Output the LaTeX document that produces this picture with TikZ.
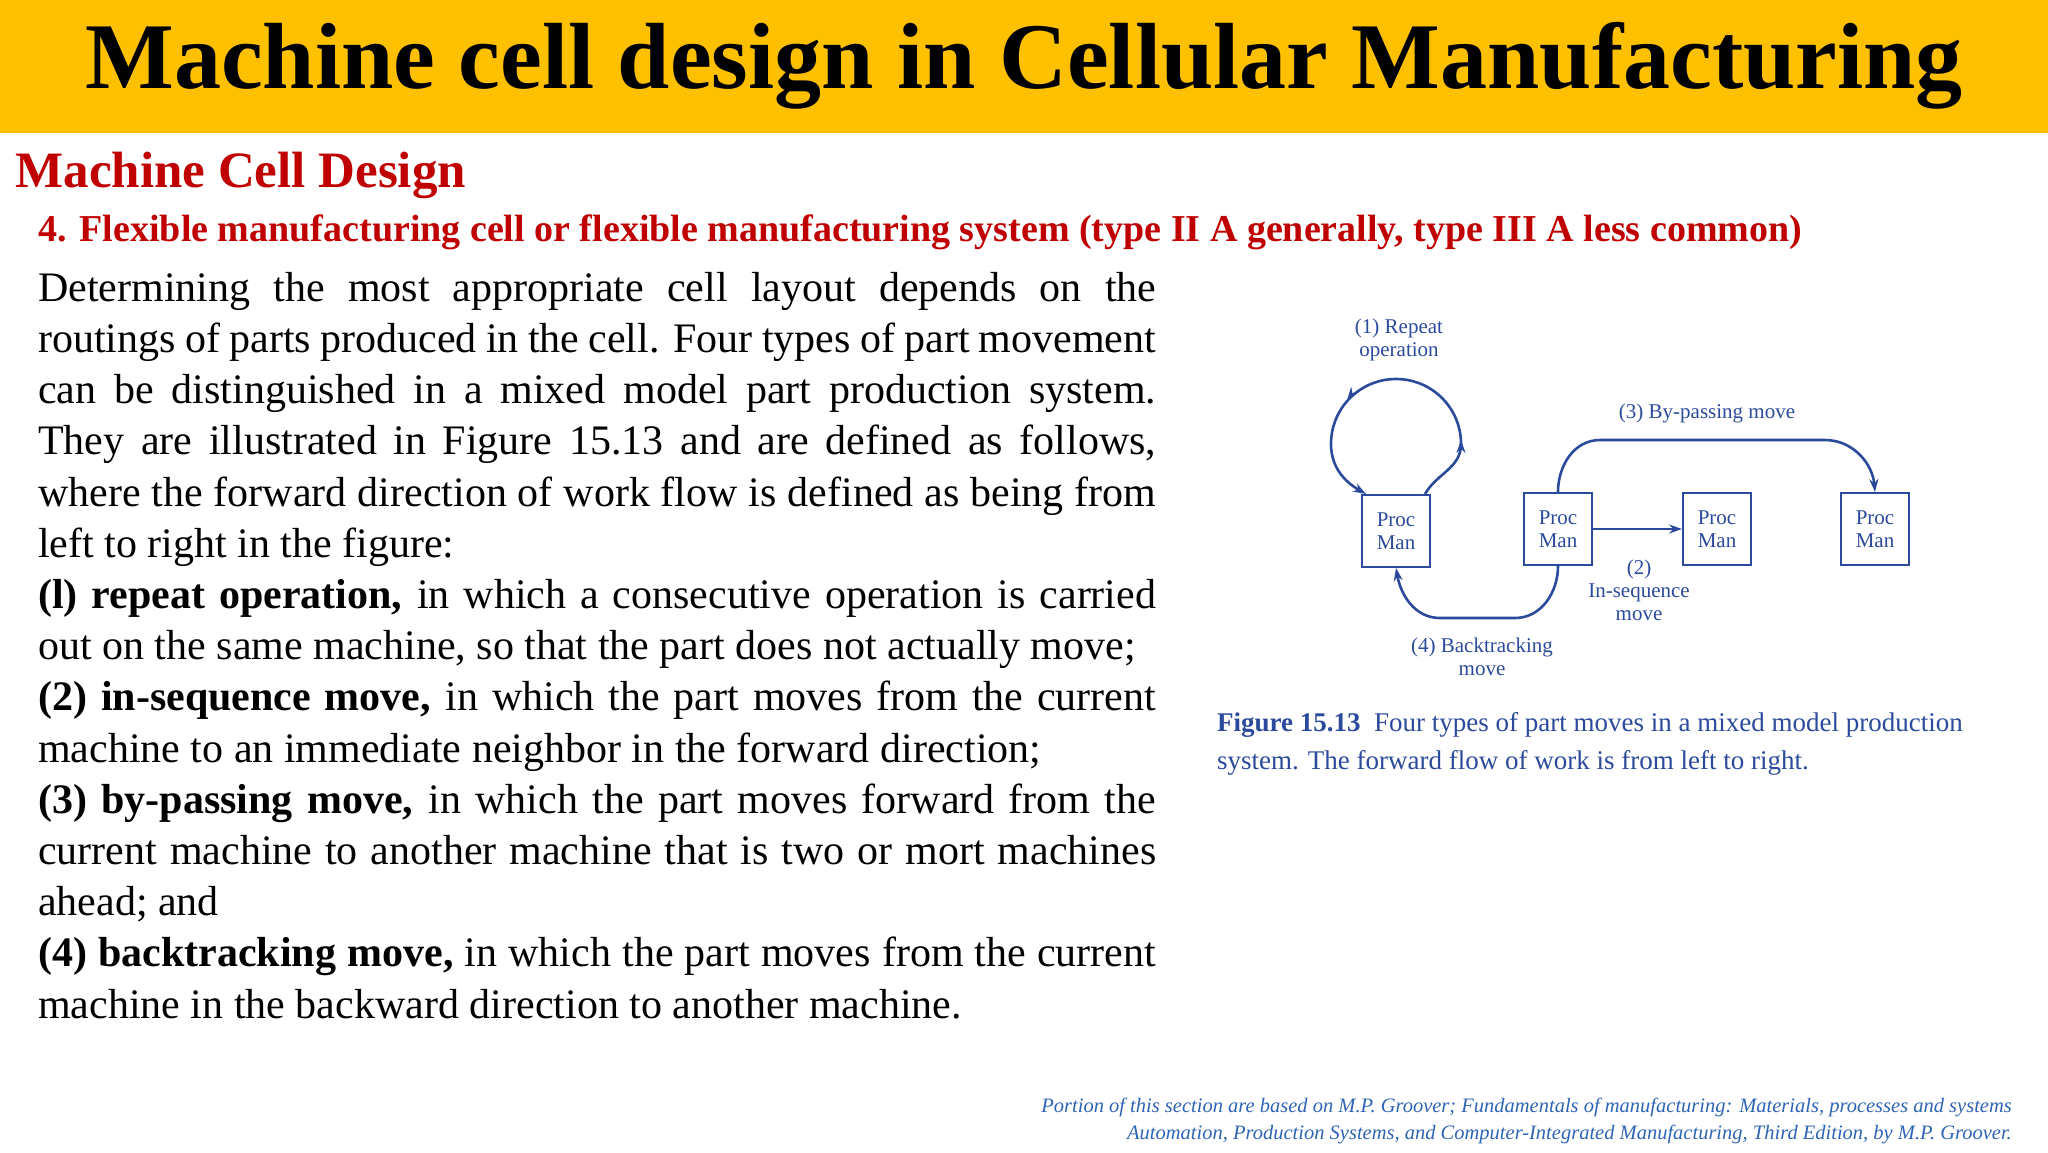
\documentclass[tikz,border=0pt]{standalone}
\usepackage{fontspec}
\setmainfont{Liberation Serif}
\usetikzlibrary{arrows.meta}
\definecolor{bar}{HTML}{FFC000}
\definecolor{dred}{HTML}{C00000}
\definecolor{fig}{HTML}{2B4A9B}
\definecolor{foot}{HTML}{2E64B4}
\tikzset{
 proc/.style={draw=fig,line width=2pt,minimum width=68pt,minimum height=72pt,inner sep=0pt,align=center,text=fig,font=\fontsize{21}{23}\selectfont},
 flab/.style={text=fig,align=center,font=\fontsize{21}{23}\selectfont},
 flow/.style={draw=fig,line width=2.6pt,-{Stealth[length=13pt,width=9pt]}},
}
\begin{document}
\begin{tikzpicture}[x=1pt,y=-1pt]
\useasboundingbox (0,0) rectangle (2048,1152);
\fill[bar] (0,0) rectangle (2048,133);
\node (title) at (1024,66) {\fontsize{94}{100}\selectfont\bfseries Machine cell design in Cellular Manufacturing};
\node[anchor=west,text=dred] (sub) at (12,175) {\fontsize{51}{54}\selectfont\bfseries Machine Cell Design};
\node[anchor=west,text=dred] (head) at (35,232) {\fontsize{38}{42}\selectfont\bfseries 4. Flexible manufacturing cell or flexible manufacturing system (type II A generally, type III A less common)};
\node[anchor=north west,inner sep=0pt] (body) at (38,272) {\parbox{1118pt}{\fontsize{42}{51.2}\selectfont
\setlength{\parindent}{0pt}\hyphenpenalty=10000\exhyphenpenalty=10000%
Determining the most appropriate cell layout depends on the routings of parts produced in the cell. Four types of part movement can be distinguished in a mixed model part production system. They are illustrated in Figure 15.13 and are defined as follows, where the forward direction of work flow is defined as being from left to right in the figure:\par
\textbf{(l) repeat operation,} in which a consecutive operation is carried out on the same machine, so that the part does not actually move;\par
\textbf{(2) in-sequence move,} in which the part moves from the current machine to an immediate neighbor in the forward direction;\par
\textbf{(3) by-passing move,} in which the part moves forward from the current machine to another machine that is two or mort machines ahead; and\par
\textbf{(4) backtracking move,} in which the part moves from the current machine in the backward direction to another machine.\par}};
% figure
\node[proc] (p1) at (1396,531) {Proc\\Man};
\node[proc] (p2) at (1558,529) {Proc\\Man};
\node[proc] (p3) at (1717,529) {Proc\\Man};
\node[proc] (p4) at (1875,529) {Proc\\Man};
\node[flab] (l1) at (1399,340) {(1) Repeat\\operation};
\node[flab] (l3) at (1707,413) {(3) By-passing move};
\node[flab] (l2) at (1639,590) {(2)\\In-sequence\\move};
\node[flab] (l4) at (1482,657) {(4) Backtracking\\move};
\draw[flow] ([xshift=-6pt]p1.north east) to[out=60,in=-90] (1461,444) to[out=90,in=0] (1396,379) to[out=180,in=90] (1331,444) to[out=-90,in=150] ([xshift=5pt]p1.north west);
\draw[fig,line width=2.6pt,-{Stealth[length=13pt,width=9pt]}] (1461,444) -- (1461,440);
\draw[fig,line width=2.6pt,-{Stealth[length=13pt,width=9pt]}] (1350,396) -- (1347,400);
\draw[flow] (p2.north) to[out=90,in=180] (1600,440) -- (1825,440) to[out=0,in=95] (p4.north);
\draw[flow] (p2.east) -- (p3.west);
\draw[flow] (p2.south) to[out=-90,in=0] (1515,618) -- (1440,618) to[out=180,in=-80] (p1.south);
\node[anchor=north west,text=fig,align=left,inner sep=0pt,font=\fontsize{27}{38}\selectfont] (cap) at (1217,712) {\textbf{Figure 15.13}\ \ Four types of part moves in a mixed model production\\system. The forward flow of work is from left to right.};
\node[anchor=east,text=foot,align=right,inner sep=0pt,font=\fontsize{20.5}{27}\selectfont\itshape] (fn) at (2012,1121) {Portion of this section are based on M.P. Groover; Fundamentals of manufacturing: Materials, processes and systems\\Automation, Production Systems, and Computer-Integrated Manufacturing, Third Edition, by M.P. Groover.};
\end{tikzpicture}
\end{document}
